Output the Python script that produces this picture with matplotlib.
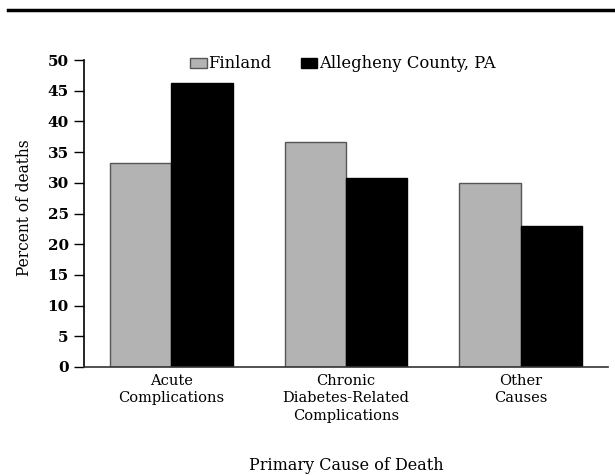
import matplotlib
matplotlib.use("Agg")
import matplotlib.pyplot as plt
import numpy as np
from matplotlib.patches import Patch
from matplotlib.lines import Line2D

categories = ["Acute\nComplications", "Chronic\nDiabetes-Related\nComplications", "Other\nCauses"]
series_names = ["Finland", "Allegheny County, PA"]
finland = [33.3, 36.7, 30.0]
allegheny = [46.2, 30.8, 23.0]
yticks = [0, 5, 10, 15, 20, 25, 30, 35, 40, 45, 50]

plt.rcParams['font.family'] = ['DejaVu Serif']

fig = plt.figure(figsize=(6.15, 4.76), dpi=100)
ax = fig.add_axes([84/615, 109/476, (608-84)/615, (367-60)/476])

x = np.arange(len(categories))
w = 0.352
ax.bar(x - w/2, finland, width=w, color="#b3b3b3", edgecolor="#555555", linewidth=1.0, label=series_names[0])
ax.bar(x + w/2, allegheny, width=w, color="#000000", edgecolor="#000000", linewidth=1.0, label=series_names[1])

ax.set_xlim(-0.5, 2.5)
ax.set_ylim(0, 50)
ax.set_yticks(yticks)
ax.set_yticklabels([str(t) for t in yticks], fontsize=11, fontweight='bold')
ax.set_xticks(x)
ax.set_xticklabels(categories, fontsize=10.5, linespacing=1.3)
ax.tick_params(axis='x', length=0, pad=5)
ax.tick_params(axis='y', direction='out', length=7, width=1, pad=4)
for s in ['top', 'right']:
    ax.spines[s].set_visible(False)
ax.spines['left'].set_linewidth(1.2)
ax.spines['bottom'].set_linewidth(1.2)
ax.spines['bottom'].set_color('#333333')

ax.set_ylabel("Percent of deaths", fontsize=11.2)
ax.yaxis.set_label_coords((33 - 84) / 524, (367 - 207.5) / 307)
fig.text(346/615, 1 - 465/476, "Primary Cause of Death", ha='center', va='center', fontsize=11.5)

handles = [Patch(facecolor="#b3b3b3", edgecolor="#555555", linewidth=1.0),
           Patch(facecolor="#000000", edgecolor="#000000")]
leg = fig.legend(handles, series_names, loc='center', bbox_to_anchor=(343/615, 1 - 64/476),
                 ncol=2, frameon=False, fontsize=11.8, handlelength=1.0, handleheight=0.6,
                 handletextpad=0.1, columnspacing=1.8, borderpad=0)

fig.add_artist(Line2D([8/615, 1.0], [1 - 10/476, 1 - 10/476], color='black', linewidth=2.5,
                      transform=fig.transFigure))

fig.savefig("out.png", dpi=100)
